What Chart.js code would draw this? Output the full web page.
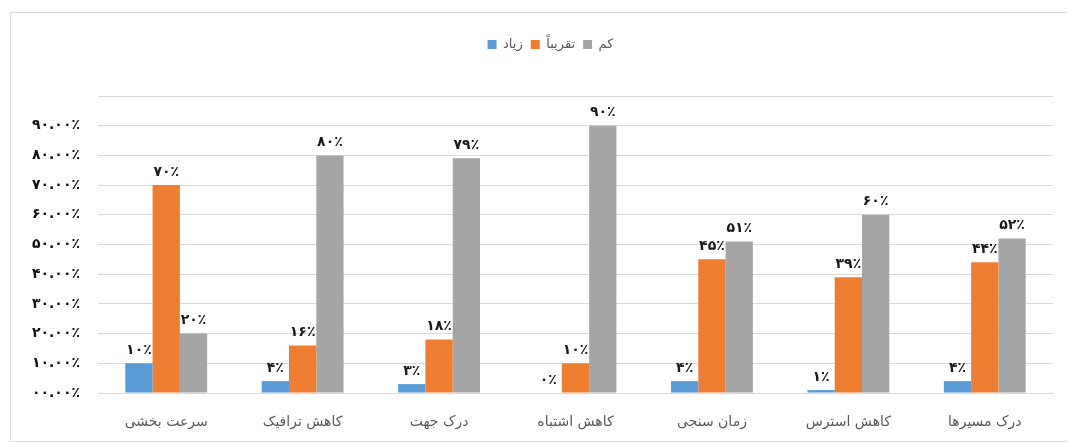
<!DOCTYPE html>
<html>
<head>
<meta charset="utf-8">
<script src="https://cdn.jsdelivr.net/npm/chart.js@4.4.0/dist/chart.umd.min.js"></script>
<style>
  body { margin: 0; background: #fff; }
  #frame { position: absolute; left: 10px; top: 12px; width: 1056px; height: 428px; border: 1px solid #d9d9d9; border-right: none; }
  #wrap { position: absolute; left: 0; top: 0; width: 1068px; height: 443px; }
</style>
</head>
<body>
<div id="frame"></div>
<div id="wrap"><canvas id="barChart"></canvas></div>
<script>
// داده‌ها
const categories = ['سرعت بخشی', 'کاهش ترافیک', 'درک جهت', 'کاهش اشتباه', 'زمان سنجی', 'کاهش استرس', 'درک مسیرها'];
const ziad = [10, 4, 3, 0, 4, 1, 4];
const taghriban = [70, 16, 18, 10, 45, 39, 44];
const kam = [20, 80, 79, 90, 51, 60, 52];
const yTicks = [0, 10, 20, 30, 40, 50, 60, 70, 80, 90];

const faDigits = '۰۱۲۳۴۵۶۷۸۹';
const toFa = s => String(s).replace(/[0-9]/g, d => faDigits[d]);

// برچسب مقدار بالای هر ستون + جای لژند
const valueLabels = {
    id: 'valueLabels',
    beforeUpdate(chart) {
        const lg = chart.legend;
        if (lg && !lg._patched) {
            lg._patched = true;
            const origFit = lg.fit;
            lg.fit = function () { origFit.call(this); this.height += 35; };
        }
    },
    afterLayout(chart) {
        chart.legend.left += 24;
        chart.legend.right += 24;
    },
    afterDatasetsDraw(chart) {
        const ctx = chart.ctx;
        ctx.save();
        ctx.font = 'bold 14px "DejaVu Sans"';
        ctx.fillStyle = '#1a1a1a';
        ctx.textAlign = 'center';
        ctx.textBaseline = 'bottom';
        chart.data.datasets.forEach((ds, i) => {
            chart.getDatasetMeta(i).data.forEach((bar, j) => {
                ctx.fillText(toFa(ds.data[j]) + '٪', bar.x, bar.y - 6);
            });
        });
        ctx.restore();
    }
};

const ctx = document.getElementById('barChart').getContext('2d');
const barChart = new Chart(ctx, {
    type: 'bar',
    data: {
        labels: categories,
        datasets: [
            { label: 'زیاد', data: ziad, backgroundColor: '#5B9BD5' },
            { label: 'تقریباً', data: taghriban, backgroundColor: '#ED7D31' },
            { label: 'کم', data: kam, backgroundColor: '#A5A5A5' }
        ]
    },
    options: {
        responsive: true,
        maintainAspectRatio: false,
        animation: false,
        layout: { padding: { top: 30, right: 15, left: 0, bottom: 0 } },
        datasets: { bar: { categoryPercentage: 0.6, barPercentage: 1 } },
        plugins: {
            legend: {
                display: true,
                labels: {
                    boxWidth: 9, boxHeight: 9, padding: 8,
                    color: '#595959',
                    font: { family: '"DejaVu Sans"', size: 13 }
                }
            },
            tooltip: { enabled: false }
        },
        scales: {
            x: {
                grid: { display: false },
                border: { color: '#d9d9d9' },
                afterFit: scale => { scale.height = 50; },
                ticks: { color: '#595959', padding: 13, font: { family: '"DejaVu Sans"', size: 14 } }
            },
            y: {
                min: 0, max: 100,
                afterBuildTicks: scale => { scale.ticks = yTicks.concat([100]).map(v => ({ value: v })); },
                afterFit: scale => { scale.width = 98; },
                grid: { color: '#d9d9d9', drawTicks: false },
                border: { display: false },
                ticks: {
                    color: '#111',
                    padding: 18,
                    font: { family: '"DejaVu Sans"', size: 14, weight: 'bold' },
                    callback: v => v === 100 ? '' : toFa((v < 10 ? '0' : '') + v + '.00') + '٪'
                }
            }
        }
    },
    plugins: [valueLabels]
});
</script>
</body>
</html>
